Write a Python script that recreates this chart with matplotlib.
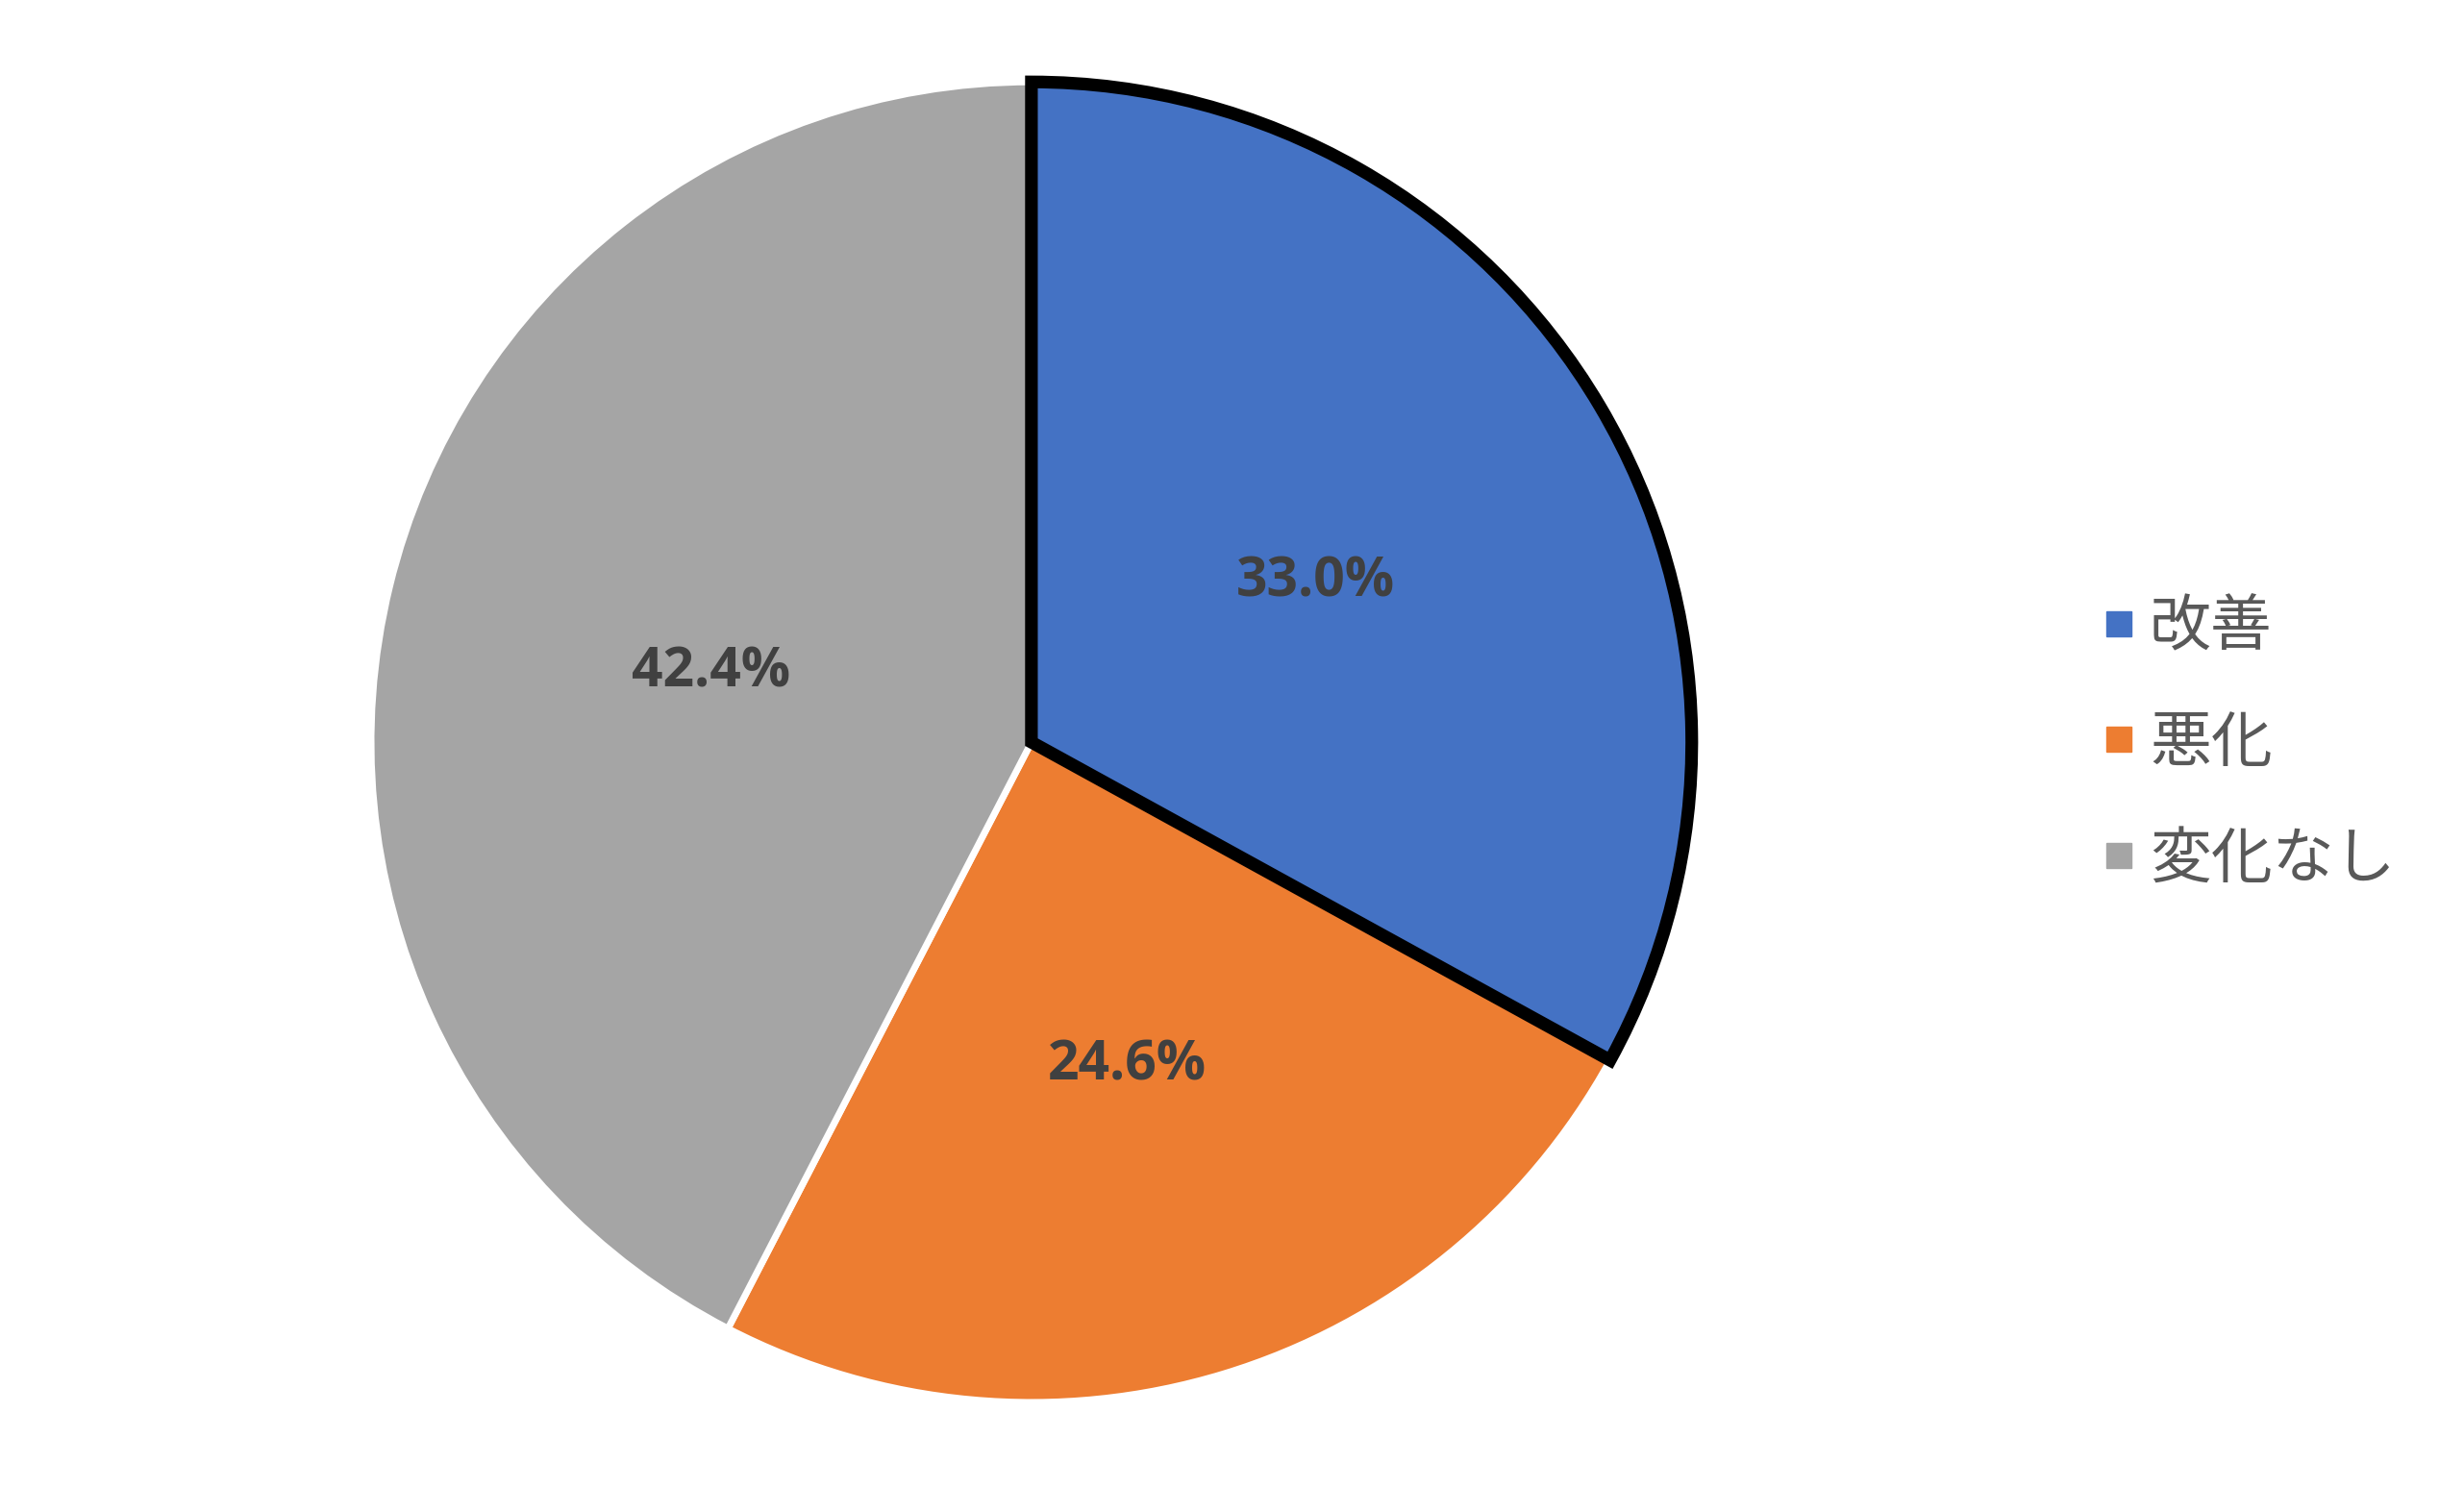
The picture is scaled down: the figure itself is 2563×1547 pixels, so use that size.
import matplotlib.pyplot as plt
from matplotlib.lines import Line2D

plt.rcParams['font.family'] = ['Noto Sans CJK JP', 'DejaVu Sans']

labels = ['改善', '悪化', '変化なし']
shares = [33.0, 24.6, 42.4]
colors = ['#4472C4', '#ED7D31', '#A5A5A5']

fig = plt.figure(figsize=(25.63, 15.47), dpi=100)
ax = fig.add_axes([0.1506, 0.0569, 0.536, 0.888])

wedges, texts, autotexts = ax.pie(
    shares, colors=colors, startangle=90, counterclock=False,
    autopct='%1.1f%%', pctdistance=0.5,
    wedgeprops=dict(edgecolor='white', linewidth=5),
    textprops=dict(color='#404040', fontsize=41, fontweight='bold',
                   family=['Open Sans', 'DejaVu Sans']))

# highlighted slice
wedges[0].set_edgecolor('black')
wedges[0].set_linewidth(9.5)
wedges[0].set_zorder(5)
autotexts[0].set_zorder(6)

# nudge the labels down a little
for t in autotexts:
    x, y = t.get_position()
    t.set_position((x, y - 0.012))

ax.set_xlim(-1, 1)
ax.set_ylim(-1, 1)
ax.set_aspect('equal')

handles = [Line2D([], [], marker='s', linestyle='none', markersize=19,
                  markerfacecolor=c, markeredgecolor=c) for c in colors]
fig.legend(handles, labels, loc='center left', bbox_to_anchor=(0.840, 0.5),
           frameon=False, fontsize=46, labelcolor='#595959',
           handlelength=0.6, handletextpad=0.2, labelspacing=0.85,
           borderpad=0)

fig.savefig('out.png', dpi=100)
